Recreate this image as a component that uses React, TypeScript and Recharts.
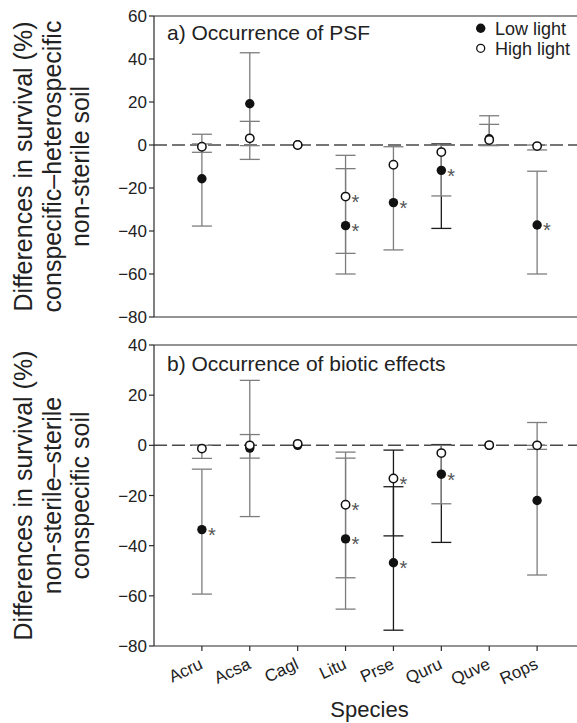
import React from 'react';
import { ScatterChart, Scatter, XAxis, YAxis, ErrorBar, ReferenceLine, Legend } from 'recharts';

// ---------- data ----------
const species = ['Acru', 'Acsa', 'Cagl', 'Litu', 'Prse', 'Quru', 'Quve', 'Rops'];
const seriesNames = ['Low light', 'High light'];
const panelTitles = ['a) Occurrence of PSF', 'b) Occurrence of biotic effects'];
const yLabelA = ['Differences in survival (%)', 'conspecific\u2013heterospecific', 'non-sterile soil'];
const yLabelB = ['Differences in survival (%)', 'non-sterile\u2013sterile', 'conspecific soil'];
const xTitle = 'Species';

// panel a: means and error-bar ends
const lowA = [-15.7, 19.2, 0, -37.5, -26.8, -11.8, 2.9, -37.2];
const lowALo = [-37.7, -6.7, null, -60, -48.8, -38.8, -0.3, -60];
const lowAHi = [5.0, 42.9, null, -11.0, -0.8, 0.5, 13.6, -12.2];
const highA = [-0.8, 3.1, 0, -24.0, -9.2, -3.3, 2.3, -0.5];
const highALo = [-3.4, -0.3, null, -50.4, null, -23.7, 0.0, -2.3];
const highAHi = [0.5, 11.0, null, -4.8, null, 0.0, 9.6, 0.0];
const sigLowA = [false, false, false, true, true, true, false, true];
const sigHighA = [false, false, false, true, false, false, false, false];

// panel b
const lowB = [-33.6, -1.1, 0, -37.3, -46.8, -11.5, 0, -22.0];
const lowBLo = [-59.3, -28.4, null, -65.3, -73.7, -38.7, null, -51.7];
const lowBHi = [-9.5, 25.9, null, -5.1, -16.5, 0.3, null, 9.1];
const highB = [-1.3, 0, 0.6, -23.7, -13.2, -3.1, 0.1, 0];
const highBLo = [-5.2, -5.1, null, -52.8, -36.1, -23.3, null, -1.6];
const highBHi = [0, 4.3, null, -2.7, -1.9, 0, null, 0];
const sigLowB = [true, false, false, true, true, true, false, false];
const sigHighB = [false, false, false, true, true, false, false, false];

const yTicksA = [60, 40, 20, 0, -20, -40, -60, -80];
const yTicksB = [40, 20, 0, -20, -40, -60, -80];
const xTicks = species.map((_, i) => i + 1);

// ---------- styles ----------
const FONT = '"Liberation Sans", Arial, Helvetica, sans-serif';
const AXIS = '#2a2a2a';
const GRAY_BAR = '#7d7d7d';
const DARK_BAR = '#1a1a1a';
const darkBars = {
  aLow: ['Quru'], aHigh: [] as string[],
  bLow: ['Prse', 'Quru'], bHigh: ['Prse'],
};

type Row = { x: number; y: number; errGray?: number[]; errDark?: number[]; sig: boolean };

function buildRows(vals: number[], lo: (number | null)[], hi: (number | null)[], sig: boolean[], dark: string[]): Row[] {
  return vals.map((v, i) => {
    const r: Row = { x: i + 1, y: v, sig: sig[i] };
    if (lo[i] != null && hi[i] != null) {
      const e = [v - (lo[i] as number), (hi[i] as number) - v];
      if (dark.includes(species[i])) r.errDark = e; else r.errGray = e;
    }
    return r;
  });
}

const rowsLowA = buildRows(lowA, lowALo, lowAHi, sigLowA, darkBars.aLow);
const rowsHighA = buildRows(highA, highALo, highAHi, sigHighA, darkBars.aHigh);
const rowsLowB = buildRows(lowB, lowBLo, lowBHi, sigLowB, darkBars.bLow);
const rowsHighB = buildRows(highB, highBLo, highBHi, sigHighB, darkBars.bHigh);

const fmtY = (v: number) => (v < 0 ? '\u2212' + Math.abs(v) : String(v));

const Star = ({ cx, cy }: { cx: number; cy: number }) => (
  <text x={cx + 6} y={cy + 12.5} fontSize={20} fill="#555" fontFamily={FONT}>*</text>
);

const FilledDot = (p: any) => {
  const { cx, cy, payload } = p;
  if (cx == null || cy == null) return <g />;
  return (
    <g>
      <circle cx={cx} cy={cy} r={4.7} fill="#111" />
      {payload && payload.sig ? <Star cx={cx} cy={cy} /> : null}
    </g>
  );
};

const OpenDot = (p: any) => {
  const { cx, cy, payload } = p;
  if (cx == null || cy == null) return <g />;
  return (
    <g>
      <circle cx={cx} cy={cy} r={4.2} fill="#fff" stroke="#111" strokeWidth={1.5} />
      {payload && payload.sig ? <Star cx={cx} cy={cy} /> : null}
    </g>
  );
};

const NoDot = () => <g />;

const makeYLabel = (lines: string[], cy: number) => () => (
  <g>
    {lines.map((t, i) => {
      const bx = 32 + i * 28.5;
      return (
        <text key={i} x={bx} y={cy} textAnchor="middle" fontSize={25} fill="#222" fontFamily={FONT}
          transform={`rotate(-90 ${bx} ${cy})`}>{t}</text>
      );
    })}
  </g>
);

const XTick = (p: any) => {
  const { x, y, payload } = p;
  const tx = x + 2;
  const ty = y + 15;
  return (
    <text x={tx} y={ty} textAnchor="end" fontSize={17} fill="#222" fontFamily={FONT}
      transform={`rotate(-25 ${tx} ${ty})`}>{species[payload.value - 1]}</text>
  );
};

const XTitle = () => (
  <text x={369.5} y={387} textAnchor="middle" fontSize={22} fill="#222" fontFamily={FONT}>{xTitle}</text>
);

const LegendBox = () => (
  <svg width={120} height={50} style={{ display: 'block', overflow: 'visible' }}>
    <circle cx={10.7} cy={14.3} r={4.7} fill="#111" />
    <text x={25} y={20.8} fontSize={18} fill="#222" fontFamily={FONT}>{seriesNames[0]}</text>
    <circle cx={10.7} cy={34.3} r={4} fill="#fff" stroke="#111" strokeWidth={1.3} />
    <text x={25} y={40.8} fontSize={18} fill="#222" fontFamily={FONT}>{seriesNames[1]}</text>
  </svg>
);

const tickStyle = { fontSize: 17, fill: '#222', fontFamily: FONT };

function Panel(props: {
  height: number; top: number; domain: [number, number]; yTicks: number[];
  rowsLow: Row[]; rowsHigh: Row[]; title: string; titleY: number; yLabel: string[];
  bottom: boolean; legend: boolean;
}) {
  const { height, top, domain, yTicks, rowsLow, rowsHigh, title, titleY, yLabel, bottom, legend } = props;
  const xAxisH = bottom ? 77 : 13;
  const plotCy = top + (height - top - xAxisH) / 2;
  return (
    <ScatterChart width={600} height={height} margin={{ top, right: 15, bottom: 0, left: 0 }}>
      <XAxis type="number" dataKey="x" domain={[0, 9]} ticks={xTicks} allowDataOverflow
        height={xAxisH} stroke={AXIS} strokeWidth={1.2} tickSize={5}
        tick={bottom ? <XTick /> : false}
        label={bottom ? XTitle : undefined} />
      <YAxis type="number" dataKey="y" domain={domain} ticks={yTicks} allowDataOverflow
        width={154} stroke={AXIS} strokeWidth={1.2} tickSize={5} tick={tickStyle}
        tickFormatter={fmtY} interval={0} label={makeYLabel(yLabel, plotCy)} />
      <ReferenceLine y={domain[1]} stroke={AXIS} strokeWidth={1.2} />
      <ReferenceLine y={0} stroke="#4a4a4a" strokeWidth={1.5} strokeDasharray="13 5" />
      {legend ? (
        <Legend layout="horizontal" verticalAlign="middle" align="center"
          wrapperStyle={{ left: 470, top: 14, width: 120, height: 50 }}
          content={LegendBox} />
      ) : null}
      <Scatter name={seriesNames[0] + ' dark bars'} data={rowsLow} shape={NoDot} isAnimationActive={false} legendType="none">
        <ErrorBar dataKey="errDark" direction="y" width={10} stroke={DARK_BAR} strokeWidth={1.3} isAnimationActive={false} />
      </Scatter>
      <Scatter name={seriesNames[1] + ' dark bars'} data={rowsHigh} shape={NoDot} isAnimationActive={false} legendType="none">
        <ErrorBar dataKey="errDark" direction="y" width={10} stroke={DARK_BAR} strokeWidth={1.3} isAnimationActive={false} />
      </Scatter>
      <Scatter name={seriesNames[0] + ' bars'} data={rowsLow} shape={NoDot} isAnimationActive={false} legendType="none">
        <ErrorBar dataKey="errGray" direction="y" width={10} stroke={GRAY_BAR} strokeWidth={1.3} isAnimationActive={false} />
      </Scatter>
      <Scatter name={seriesNames[1] + ' bars'} data={rowsHigh} shape={NoDot} isAnimationActive={false} legendType="none">
        <ErrorBar dataKey="errGray" direction="y" width={10} stroke={GRAY_BAR} strokeWidth={1.3} isAnimationActive={false} />
      </Scatter>
      <Scatter name={seriesNames[0]} data={rowsLow} shape={FilledDot} isAnimationActive={false} />
      <Scatter name={seriesNames[1]} data={rowsHigh} shape={OpenDot} isAnimationActive={false} />
      <text x={167} y={titleY} fontSize={21} fill="#222" fontFamily={FONT}>{title}</text>
    </ScatterChart>
  );
}

export default function App() {
  return (
    <div style={{ position: 'fixed', left: 0, top: 0, width: 577, height: 723, overflow: 'hidden', background: '#fff' }}>
      <Panel height={330} top={16} domain={[-80, 60]} yTicks={yTicksA} rowsLow={rowsLowA} rowsHigh={rowsHighA}
        title={panelTitles[0]} titleY={40} yLabel={yLabelA} bottom={false} legend={true} />
      <Panel height={393} top={15} domain={[-80, 40]} yTicks={yTicksB} rowsLow={rowsLowB} rowsHigh={rowsHighB}
        title={panelTitles[1]} titleY={41} yLabel={yLabelB} bottom={true} legend={false} />
    </div>
  );
}
